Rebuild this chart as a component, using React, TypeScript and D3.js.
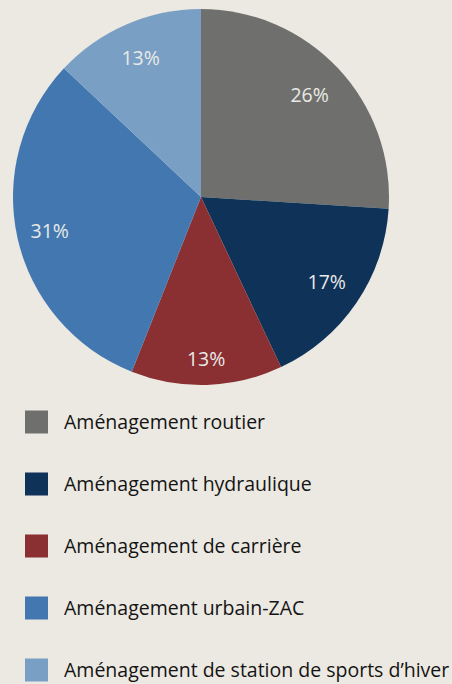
import React, { useEffect, useRef } from "react";
import * as d3 from "d3";

const categories = [
  "Aménagement routier",
  "Aménagement hydraulique",
  "Aménagement de carrière",
  "Aménagement urbain-ZAC",
  "Aménagement de station de sports d’hiver",
];
const values = [26, 17, 13, 31, 13];
const colors = ["#6f706d", "#0f3259", "#8a2f32", "#4277b0", "#7a9fc4"];

const W = 452;
const H = 684;

export default function App() {
  const ref = useRef<SVGSVGElement | null>(null);

  useEffect(() => {
    const svg = d3.select(ref.current);
    svg.selectAll("*").remove();

    svg.append("rect").attr("width", W).attr("height", H).attr("fill", "#ece9e2");

    const cx = 201;
    const cy = 197;
    const R = 188;

    const pie = d3.pie<number>().sort(null).value((d) => d);
    const arcs = pie(values);
    const arc = d3.arc<d3.PieArcDatum<number>>().innerRadius(0).outerRadius(R);
    const labelR = [149, 152, 162, 155, 152];

    const g = svg.append("g").attr("transform", `translate(${cx},${cy})`);
    g.selectAll("path")
      .data(arcs)
      .join("path")
      .attr("d", arc)
      .attr("fill", (_d, i) => colors[i]);

    g.selectAll("text")
      .data(arcs)
      .join("text")
      .attr("transform", (d, i) => {
        const a = d3.arc<d3.PieArcDatum<number>>().innerRadius(labelR[i]).outerRadius(labelR[i]);
        const [x, y] = a.centroid(d);
        return `translate(${x},${y})`;
      })
      .attr("text-anchor", "middle")
      .attr("dy", "0.36em")
      .attr("font-family", "Open Sans")
      .attr("font-size", 19.5)
      .attr("fill", "#e9e9e6")
      .text((d) => `${d.data}%`);

    const y = d3
      .scaleBand<number>()
      .domain(d3.range(categories.length))
      .range([391, 701])
      .paddingInner(0);

    const leg = svg
      .append("g")
      .selectAll("g")
      .data(categories)
      .join("g")
      .attr("transform", (_d, i) => `translate(0,${(y(i) as number) + y.bandwidth() / 2})`);

    leg
      .append("rect")
      .attr("x", 25)
      .attr("y", -11.5)
      .attr("width", 23)
      .attr("height", 23)
      .attr("fill", (_d, i) => colors[i]);

    leg
      .append("text")
      .attr("x", 64)
      .attr("dy", "0.36em")
      .attr("font-family", "Open Sans")
      .attr("font-size", 19.5)
      .attr("fill", "#141414")
      .text((d) => d);
  }, []);

  return (
    <div style={{ position: "fixed", left: 0, top: 0, width: W, height: H }}>
      <svg ref={ref} width={W} height={H} style={{ display: "block" }} />
    </div>
  );
}
